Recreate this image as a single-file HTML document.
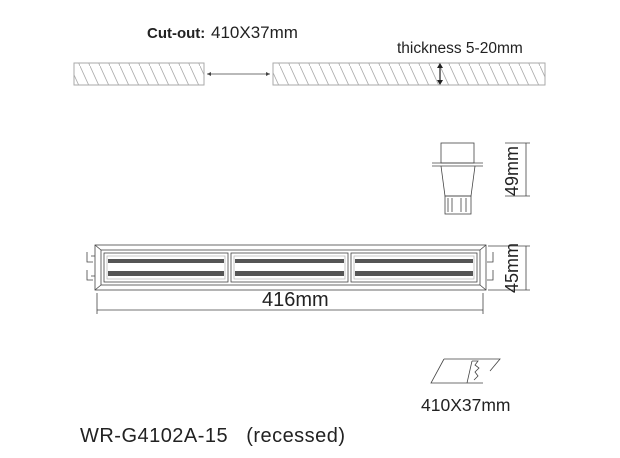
<!DOCTYPE html><html><head><style>body{margin:0;background:#fff}svg{display:block}text{font-family:"Liberation Sans",sans-serif;fill:#222;white-space:pre}</style></head><body>
<svg width="620" height="458" viewBox="0 0 620 458" xmlns="http://www.w3.org/2000/svg" xml:space="preserve">
<defs>
<pattern id="h" width="10" height="22" patternUnits="userSpaceOnUse"><line x1="0" y1="0" x2="10" y2="22" stroke="#aaa" stroke-width="0.8"/></pattern>
</defs>
<text x="147" y="38" font-size="15" font-weight="bold">Cut-out:</text>
<text x="211" y="38" font-size="17">410X37mm</text>
<text x="397" y="53" font-size="15.5">thickness 5-20mm</text>
<rect x="74" y="63" width="130" height="22" fill="url(#h)" stroke="#aaa"/>
<rect x="273" y="63" width="272" height="22" fill="url(#h)" stroke="#aaa"/>
<line x1="207" y1="74" x2="270" y2="74" stroke="#444" stroke-width="0.7"/>
<path d="M207 74l4-2v4zM270 74l-4-2v4z" fill="#444"/>
<line x1="440" y1="65" x2="440" y2="83" stroke="#222" stroke-width="1.2"/>
<path d="M440 63l-3 5h6zM440 85l-3-5h6z" fill="#222"/>
<g stroke="#444" stroke-width="0.8" fill="none">
<rect x="441" y="143" width="33" height="20"/>
<line x1="432" y1="163" x2="483" y2="163"/><line x1="432" y1="166" x2="483" y2="166"/>
<path d="M441 166l4 30h26l4-30"/>
<rect x="445" y="196" width="26" height="18"/>
<path d="M448 198v14M452 198v14M461 198v14M466 198v14"/>
<line x1="505" y1="143" x2="530" y2="143"/><line x1="505" y1="196" x2="530" y2="196"/>
<line x1="526" y1="143" x2="526" y2="196"/>
</g>
<text transform="translate(518,196) rotate(-90)" font-size="18">49mm</text>
<g stroke="#444" stroke-width="0.8" fill="none">
<rect x="95" y="245" width="391" height="45"/>
<rect x="101" y="250" width="379" height="35"/>
<line x1="95" y1="245" x2="101" y2="250"/><line x1="486" y1="245" x2="480" y2="250"/>
<line x1="95" y1="290" x2="101" y2="285"/><line x1="486" y1="290" x2="480" y2="285"/>
<rect x="104" y="253" width="124" height="29"/><rect x="231" y="253" width="117" height="29"/><rect x="351" y="253" width="126" height="29"/>
<path d="M87 252v10h6M87 270v10h6M91 256h4M91 276h4M493 252v10h-6M493 270v10h-6"/>
<line x1="488" y1="246" x2="530" y2="246"/><line x1="488" y1="290" x2="530" y2="290"/>
<line x1="526" y1="246" x2="526" y2="290"/>
<line x1="97" y1="293" x2="97" y2="314"/><line x1="483" y1="293" x2="483" y2="314"/>
<line x1="97" y1="310" x2="483" y2="310"/>
</g>
<g fill="#555">
<rect x="108" y="259" width="116" height="4"/><rect x="108" y="271" width="116" height="5"/>
<rect x="235" y="259" width="109" height="4"/><rect x="235" y="271" width="109" height="5"/>
<rect x="355" y="259" width="118" height="4"/><rect x="355" y="271" width="118" height="5"/>
</g>
<g fill="none" stroke="#bbb" stroke-width="0.8"><rect x="107" y="256" width="118" height="23"/><rect x="234" y="256" width="111" height="23"/><rect x="354" y="256" width="120" height="23"/></g>
<text x="262" y="306" font-size="20">416mm</text>
<text transform="translate(518,293) rotate(-90)" font-size="18">45mm</text>
<g stroke="#444" stroke-width="0.8" fill="none">
<path d="M444 359h56l-10 12M483 383h-52l13-24"/>
<path d="M472 361l-5 22M472 361h6l-3 4 4 3-4 4 3 4-4 4"/>
</g>
<text x="421" y="411" font-size="17.5">410X37mm</text>
<text x="80" y="442" font-size="20" textLength="265" lengthAdjust="spacing">WR-G4102A-15   (recessed)</text>
</svg>
</body></html>
